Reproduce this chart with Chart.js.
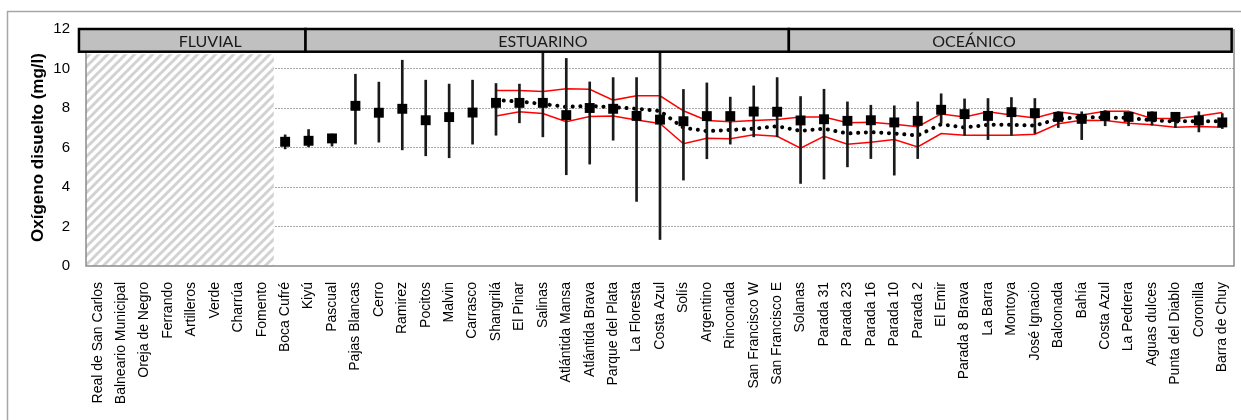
<!DOCTYPE html>
<html>
<head>
<meta charset="utf-8">
<script src="https://cdn.jsdelivr.net/npm/chart.js@4.4.1/dist/chart.umd.min.js"></script>
<style>
  html, body { margin: 0; padding: 0; background: #fff; }
  canvas { display: block; }
</style>
</head>
<body>
<canvas id="c" width="1241" height="420"></canvas>
<script>
// Stations along the coast, west to east
const stations = [
  'Real de San Carlos', 'Balneario Municipal', 'Oreja de Negro', 'Ferrando', 'Artilleros',
  'Verde', 'Charrúa', 'Fomento', 'Boca Cufré', 'Kiyú', 'Pascual', 'Pajas Blancas', 'Cerro',
  'Ramirez', 'Pocitos', 'Malvin', 'Carrasco', 'Shangrilá', 'El Pinar', 'Salinas',
  'Atlántida Mansa', 'Atlántida Brava', 'Parque del Plata', 'La Floresta', 'Costa Azul',
  'Solís', 'Argentino', 'Rinconada', 'San Francisco W', 'San Francisco E', 'Solanas',
  'Parada 31', 'Parada 23', 'Parada 16', 'Parada 10', 'Parada 2', 'El Emir',
  'Parada 8 Brava', 'La Barra', 'Montoya', 'José Ignacio', 'Balconada', 'Bahía',
  'Costa Azul', 'La Pedrera', 'Aguas dulces', 'Punta del Diablo', 'Coronilla', 'Barra de Chuy'
];

// Fluvial stations without data (hatched block)
const fluvialArea = [10.7, 10.7, 10.7, 10.7, 10.7, 10.7, 10.7, 10.7,
  null, null, null, null, null, null, null, null, null, null, null, null, null, null, null, null, null,
  null, null, null, null, null, null, null, null, null, null, null, null, null, null, null, null,
  null, null, null, null, null, null, null, null];

// Mean dissolved oxygen per station (mg/l)
const meanO2 = [null, null, null, null, null, null, null, null,
  6.29, 6.34, 6.46, 8.11, 7.76, 7.96, 7.38, 7.54, 7.77, 8.26, 8.26, 8.26,
  7.64, 8.00, 7.96, 7.60, 7.41, 7.33, 7.59, 7.59, 7.82, 7.81, 7.37,
  7.43, 7.35, 7.38, 7.27, 7.35, 7.91, 7.69, 7.60, 7.79, 7.74, 7.55,
  7.45, 7.60, 7.55, 7.57, 7.55, 7.37, 7.27];

// Range of each station (whiskers)
const minO2 = [null, null, null, null, null, null, null, null,
  5.93, 6.03, 6.07, 6.17, 6.27, 5.88, 5.58, 5.48, 6.17, 6.62, 7.25, 6.54,
  4.62, 5.16, 6.37, 3.27, 1.34, 4.35, 5.43, 6.17, 6.54, 6.54, 4.18,
  4.40, 5.02, 5.44, 4.60, 5.44, 7.23, 6.62, 6.40, 6.62, 6.71, 7.01,
  6.40, 7.10, 7.10, 7.13, 7.01, 6.79, 6.96];
const maxO2 = [null, null, null, null, null, null, null, null,
  6.64, 6.91, 6.68, 9.71, 9.31, 10.42, 9.41, 9.21, 9.41, 9.24, 9.21, 11.2,
  10.51, 9.32, 9.54, 9.54, 11.5, 8.94, 9.27, 8.55, 9.12, 9.54, 8.58,
  8.95, 8.31, 8.14, 8.11, 8.31, 8.72, 8.46, 8.48, 8.53, 8.48, 7.81,
  7.81, 7.87, 7.79, 7.81, 7.77, 7.81, 7.72];

// Reference band: upper limit, lower limit and mean
const bandUpper = [null, null, null, null, null, null, null, null, null, null, null, null, null, null, null, null, null,
  8.89, 8.89, 8.84, 8.97, 8.95, 8.40, 8.62, 8.62, 7.86, 7.37, 7.30, 7.37, 7.42, 7.54,
  7.54, 7.25, 7.28, 7.18, 7.05, 7.70, 7.55, 7.81, 7.64, 7.50, 7.81,
  7.64, 7.84, 7.84, 7.47, 7.47, 7.60, 7.77];
const bandLower = [null, null, null, null, null, null, null, null, null, null, null, null, null, null, null, null, null,
  7.60, 7.81, 7.72, 7.30, 7.57, 7.59, 7.39, 7.22, 6.19, 6.47, 6.44, 6.64, 6.57, 5.97,
  6.57, 6.17, 6.27, 6.40, 6.03, 6.71, 6.62, 6.62, 6.62, 6.67, 7.20,
  7.38, 7.37, 7.23, 7.15, 7.03, 7.06, 7.03];
const bandMean = [null, null, null, null, null, null, null, null, null, null, null, null, null, null, null, null, null,
  8.40, 8.33, 8.20, 8.06, 8.11, 8.04, 7.96, 7.85, 7.00, 6.83, 6.89, 6.95, 7.08, 6.84,
  6.95, 6.71, 6.78, 6.71, 6.61, 7.18, 7.01, 7.15, 7.15, 7.11, 7.45,
  7.54, 7.52, 7.50, 7.38, 7.32, 7.33, 7.33];

const yTicks = [0, 2, 4, 6, 8, 10, 12];
const zones = ['FLUVIAL', 'ESTUARINO', 'OCEÁNICO'];

// Zone header geometry, in station-index units along the x axis
const zoneEdges = [-0.8, 8.87, 29.5, 48.4];
const zoneTextAt = [4.8, 19.0, 37.4];

const FONT = "'Liberation Sans', Arial, sans-serif";
Chart.defaults.font.family = FONT;
Chart.defaults.color = '#000';

// Diagonal hatch for the fluvial block
function makeHatch() {
  const s = 9;
  const c = document.createElement('canvas');
  c.width = s; c.height = s;
  const g = c.getContext('2d');
  g.fillStyle = '#fff';
  g.fillRect(0, 0, s, s);
  g.strokeStyle = '#d2d2d2';
  g.lineWidth = 3;
  g.beginPath();
  g.moveTo(-1, s + 1); g.lineTo(s + 1, -1);
  g.moveTo(-1 - s, s + 1); g.lineTo(1, -1);
  g.moveTo(s - 1, s + 1); g.lineTo(2 * s + 1, -1);
  g.stroke();
  return document.getElementById('c').getContext('2d').createPattern(c, 'repeat');
}

const whiskers = minO2.map((lo, i) => (lo == null ? null : [lo, maxO2[i]]));

const decorations = {
  id: 'decorations',
  beforeDraw(chart) {
    const { ctx } = chart;
    ctx.save();
    ctx.fillStyle = '#fff';
    ctx.fillRect(0, 0, chart.width, chart.height);
    ctx.strokeStyle = '#a6a6a6';
    ctx.lineWidth = 1.5;
    ctx.strokeRect(7.5, 11.5, chart.width + 20, chart.height + 20);
    ctx.restore();
  },
  afterDatasetsDraw(chart) {
    const { ctx, chartArea: a, scales: { x, y } } = chart;
    ctx.save();
    // plot frame
    ctx.strokeStyle = '#8c8c8c';
    ctx.lineWidth = 1.5;
    ctx.beginPath();
    ctx.moveTo(a.left, a.top);
    ctx.lineTo(a.left, a.bottom);
    ctx.lineTo(a.right, a.bottom);
    ctx.lineTo(a.right, a.top);
    ctx.stroke();

    // zone header
    const top = y.getPixelForValue(12);
    const bot = y.getPixelForValue(10.85);
    ctx.lineWidth = 2.5;
    ctx.strokeStyle = '#000';
    for (let i = 0; i < zones.length; i++) {
      const l = x.getPixelForValue(zoneEdges[i]);
      const r = x.getPixelForValue(zoneEdges[i + 1]);
      ctx.fillStyle = '#c0c0c0';
      ctx.fillRect(l, top, r - l, bot - top);
      ctx.strokeRect(l, top, r - l, bot - top);
      ctx.fillStyle = '#1a1a1a';
      ctx.font = "16px Lato, 'Open Sans', sans-serif";
      ctx.textAlign = 'center';
      ctx.textBaseline = 'middle';
      ctx.fillText(zones[i], x.getPixelForValue(zoneTextAt[i]), (top + bot) / 2 + 1);
    }
    ctx.restore();
  }
};

new Chart(document.getElementById('c'), {
  data: {
    labels: stations,
    datasets: [
      {
        type: 'bar',
        data: fluvialArea,
        backgroundColor: makeHatch(),
        borderWidth: 0,
        barPercentage: 1,
        categoryPercentage: 1,
        grouped: false,
        order: 10
      },
      {
        type: 'line',
        data: bandUpper,
        borderColor: '#ff0000',
        borderWidth: 1.5,
        pointRadius: 0,
        tension: 0,
        order: 6
      },
      {
        type: 'line',
        data: bandLower,
        borderColor: '#ff0000',
        borderWidth: 1.5,
        pointRadius: 0,
        tension: 0,
        order: 5
      },
      {
        type: 'line',
        data: bandMean,
        borderColor: '#000',
        borderWidth: 4,
        borderDash: [0.1, 7.6],
        borderCapStyle: 'round',
        pointRadius: 0,
        tension: 0,
        order: 4
      },
      {
        type: 'bar',
        data: whiskers,
        backgroundColor: '#1a1a1a',
        borderWidth: 0,
        barThickness: 2,
        grouped: false,
        order: 2
      },
      {
        type: 'line',
        data: meanO2,
        showLine: false,
        pointStyle: 'rect',
        pointRadius: 7,
        pointBackgroundColor: '#000',
        pointBorderColor: '#000',
        pointBorderWidth: 0,
        order: 1
      }
    ]
  },
  options: {
    responsive: false,
    animation: false,
    devicePixelRatio: 1,
    layout: { padding: { left: 8, right: 4, top: 29, bottom: 0 } },
    plugins: { legend: { display: false }, tooltip: { enabled: false } },
    scales: {
      x: {
        type: 'category',
        offset: true,
        grid: { display: false, drawTicks: false },
        border: { display: false },
        ticks: {
          autoSkip: false,
          minRotation: 90,
          maxRotation: 90,
          padding: 16,
          color: '#000',
          font: { size: 14, family: FONT }
        },
        afterFit(scale) {
          scale.height = 154;
          scale.paddingLeft = 0;
          scale.paddingRight = 0;
        }
      },
      y: {
        type: 'linear',
        min: 0,
        max: 12,
        afterBuildTicks(scale) {
          scale.ticks = yTicks.map(v => ({ value: v }));
        },
        grid: {
          drawTicks: false,
          lineWidth: 1,
          color: c => (c.tick && (c.tick.value === 0 || c.tick.value === 12)) ? 'rgba(0,0,0,0)' : '#a8a8a8'
        },
        border: { display: false, dash: [2, 1] },
        ticks: {
          padding: 16,
          color: '#000',
          font: { size: 15, family: FONT }
        },
        title: {
          display: true,
          text: 'Oxígeno disuelto (mg/l)',
          color: '#000',
          font: { size: 17, weight: 'bold', family: FONT },
          padding: { top: 20, bottom: 0 }
        },
        afterFit(scale) {
          scale.width = 78;
          scale.paddingTop = 0;
          scale.paddingBottom = 0;
        }
      }
    }
  },
  plugins: [decorations]
});
</script>
</body>
</html>
